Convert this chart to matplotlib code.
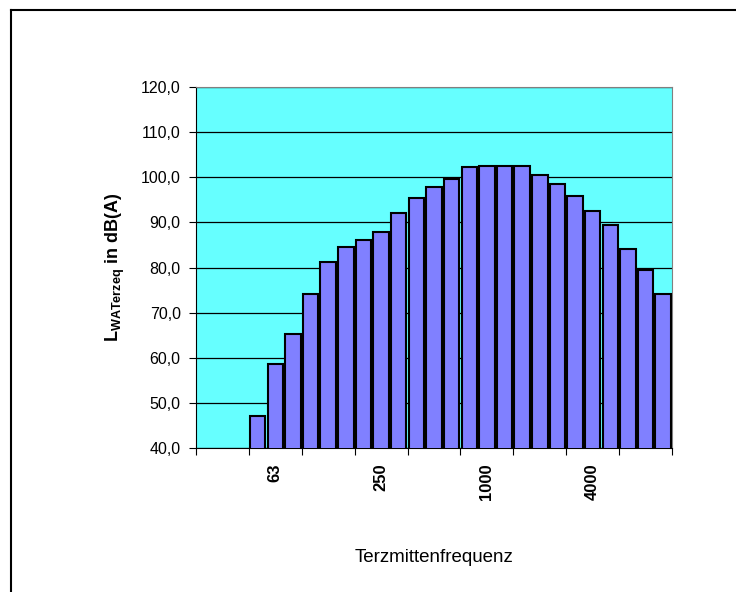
import numpy as np
import matplotlib.pyplot as plt
from matplotlib.lines import Line2D

plt.rcParams["font.family"] = ["Liberation Sans", "DejaVu Sans"]
plt.rcParams["mathtext.fontset"] = "custom"
plt.rcParams["mathtext.rm"] = "Liberation Sans:bold"
plt.rcParams["mathtext.bf"] = "Liberation Sans:bold"

# Terzmittenfrequenzen in Hz
freqs = ["25", "31,5", "40", "50", "63", "80", "100", "125", "160", "200",
         "250", "315", "400", "500", "630", "800", "1000", "1250", "1600",
         "2000", "2500", "3150", "4000", "5000", "6300", "8000", "10000"]
# Pegel in dB(A); die ersten drei liegen unter dem Achsenbereich
levels = [np.nan, np.nan, np.nan, 47.2, 58.6, 65.3, 74.2, 81.2, 84.6, 86.0,
          87.8, 92.1, 95.3, 97.8, 99.6, 102.3, 102.5, 102.6, 102.6, 100.5,
          98.6, 95.9, 92.6, 89.5, 84.0, 79.5, 74.1]
shown_labels = ["63", "250", "1000", "4000"]
y_ticks = [40, 50, 60, 70, 80, 90, 100, 110, 120]

fig = plt.figure(figsize=(7.36, 5.92), dpi=100)
ax = fig.add_axes([196 / 736, 1 - 448 / 592, 476 / 736, 361 / 592])
ax.set_facecolor("#66ffff")

x = np.arange(len(freqs))
ax.bar(x, levels, width=0.88, bottom=0, color="#8080ff",
       edgecolor="black", linewidth=1.5, zorder=3)

ax.set_xlim(-0.5, len(freqs) - 0.5)
ax.set_ylim(40, 120)

ax.set_yticks(y_ticks)
ax.set_yticklabels([f"{v:.1f}".replace(".", ",") for v in y_ticks])
ax.yaxis.grid(True, color="black", linewidth=0.9, zorder=1)
ax.tick_params(axis="y", direction="out", length=5, width=0.8,
               labelsize=11.5, pad=6)

# Teilstriche an den Kategoriegrenzen, Beschriftung nur jede sechste
ax.set_xticks(np.arange(-0.5, len(freqs), 3))
ax.set_xticklabels([])
ax.tick_params(axis="x", which="major", direction="out", length=5, width=0.8)
label_pos = [freqs.index(f) for f in shown_labels]
ax.set_xticks(label_pos, minor=True)
ax.set_xticklabels(shown_labels, minor=True, rotation=90,
                   fontweight="bold", fontsize=12)
ax.tick_params(axis="x", which="minor", length=0, pad=11)
for lbl in ax.get_xticklabels(minor=True):
    lbl.set_verticalalignment("top")

for side in ["top", "right"]:
    ax.spines[side].set_color("#808080")
for side in ["left", "bottom"]:
    ax.spines[side].set_color("black")

fig.text(115 / 736, 1 - 267 / 592,
         r"$\mathregular{L_{WATerzeq}}$ in dB(A)",
         rotation=90, ha="center", va="center",
         fontsize=13, fontweight="bold")
fig.text(434 / 736, 1 - 558 / 592, "Terzmittenfrequenz",
         ha="center", va="center", fontsize=13.5)

# Rahmen des Diagrammbereichs
fig.add_artist(Line2D([11 / 736, 1.0], [1 - 10 / 592, 1 - 10 / 592],
                      color="black", linewidth=1.5))
fig.add_artist(Line2D([11 / 736, 11 / 736], [0, 1 - 10 / 592],
                      color="black", linewidth=1.5))

fig.savefig("out.png", dpi=100)
